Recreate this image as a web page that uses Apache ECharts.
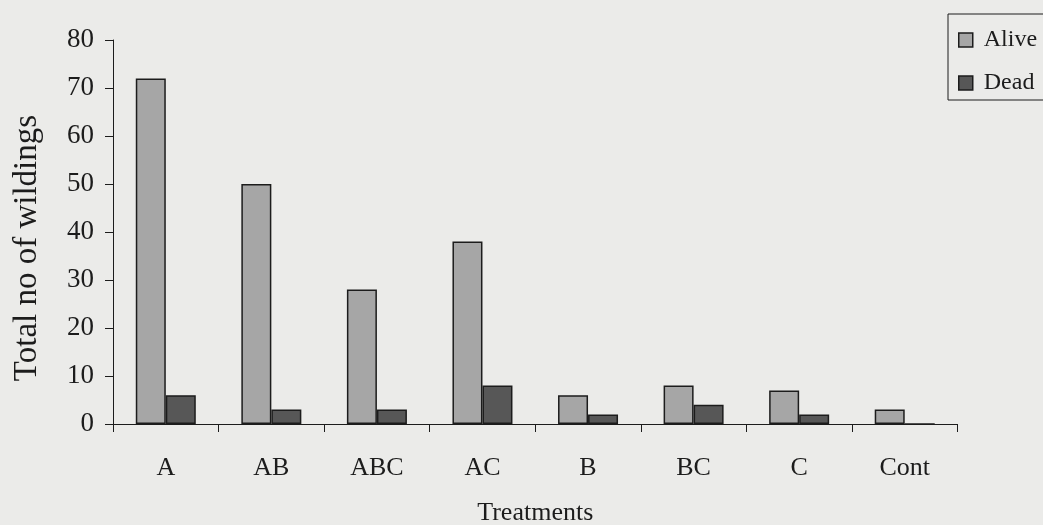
<!DOCTYPE html>
<html>
<head>
<meta charset="utf-8">
<script src="https://cdn.jsdelivr.net/npm/echarts@6/dist/echarts.min.js"></script>
<style>
  html, body { margin: 0; padding: 0; background: #ebebe9; }
  #chart { width: 1043px; height: 525px; }
</style>
</head>
<body>
<div id="chart"></div>
<script>
// Wildling counts per treatment
const treatments = ['A', 'AB', 'ABC', 'AC', 'B', 'BC', 'C', 'Cont'];
const alive = [72, 50, 28, 38, 6, 8, 7, 3];
const dead = [6, 3, 3, 8, 2, 4, 2, 0];
const yTicks = { min: 0, max: 80, step: 10 };

const serif = '"Liberation Serif", "DejaVu Serif", serif';
const ink = '#1c1c1c';

const chart = echarts.init(document.getElementById('chart'), null, { renderer: 'canvas' });
chart.setOption({
  backgroundColor: '#ebebe9',
  animation: false,
  textStyle: { fontFamily: serif, color: ink },
  grid: { left: 113, right: 85.5, top: 40, bottom: 101, containLabel: false, outerBoundsMode: 'none' },
  legend: {
    left: 948,
    top: 14,
    orient: 'vertical',
    padding: [14, 40, 5, 10],
    itemGap: 19,
    itemWidth: 14,
    itemHeight: 14,
    borderColor: ink,
    borderWidth: 1,
    backgroundColor: 'transparent',
    textStyle: { fontFamily: serif, fontSize: 24, color: ink, lineHeight: 24, padding: [0, 0, 0, 6] },
    data: [
      { name: 'Alive', icon: 'rect', itemStyle: { borderColor: ink, borderWidth: 1.5 } },
      { name: 'Dead', icon: 'rect', itemStyle: { borderColor: ink, borderWidth: 1.5 } }
    ]
  },
  xAxis: {
    type: 'category',
    data: treatments,
    name: 'Treatments',
    nameLocation: 'middle',
    nameGap: 76,
    nameTextStyle: { fontFamily: serif, fontSize: 26, color: ink },
    axisLine: { lineStyle: { color: ink, width: 1 } },
    axisTick: { show: true, length: 8, lineStyle: { color: ink } },
    axisLabel: { fontFamily: serif, fontSize: 26, color: ink, margin: 31 },
    splitLine: { show: false }
  },
  yAxis: {
    type: 'value',
    min: yTicks.min,
    max: yTicks.max,
    interval: yTicks.step,
    name: 'Total no of wildings',
    nameLocation: 'middle',
    nameGap: 69,
    nameRotate: 90,
    nameTextStyle: { fontFamily: serif, fontSize: 33, color: ink, padding: [0, 32, 0, 0] },
    axisLine: { show: true, lineStyle: { color: ink, width: 1 } },
    axisTick: { show: true, length: 8, lineStyle: { color: ink } },
    axisLabel: { fontFamily: serif, fontSize: 27, color: ink, margin: 19 },
    splitLine: { show: false }
  },
  series: [
    {
      name: 'Alive',
      type: 'bar',
      data: alive,
      barWidth: 30,
      barGap: '0%',
      itemStyle: { color: '#a6a6a6', borderColor: ink, borderWidth: 1.5 }
    },
    {
      name: 'Dead',
      type: 'bar',
      data: dead,
      barWidth: 30,
      itemStyle: { color: '#575757', borderColor: ink, borderWidth: 1.5 }
    }
  ]
});
</script>
</body>
</html>
